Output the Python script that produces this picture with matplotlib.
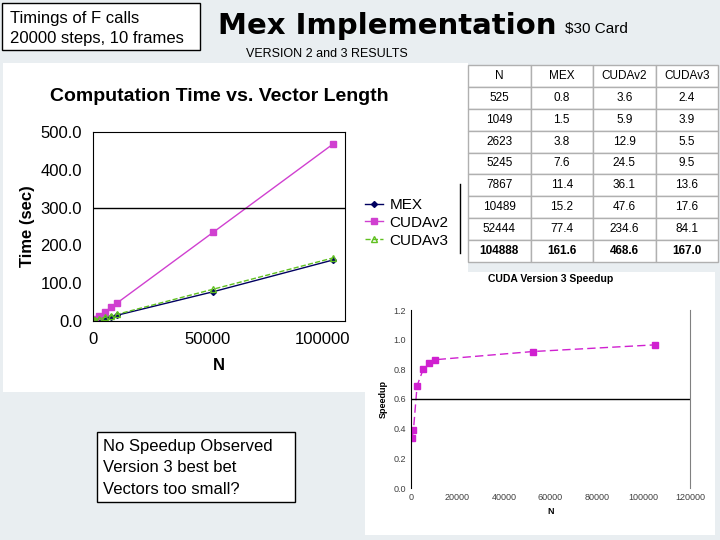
import matplotlib

matplotlib.use("Agg")
import matplotlib.pyplot as plt
from matplotlib.patches import Rectangle

plt.rcParams["font.family"] = "Liberation Sans"

N = [525, 1049, 2623, 5245, 7867, 10489, 52444, 104888]
MEX = [0.8, 1.5, 3.8, 7.6, 11.4, 15.2, 77.4, 161.6]
CUDAV2 = [3.6, 5.9, 12.9, 24.5, 36.1, 47.6, 234.6, 468.6]
CUDAV3 = [2.4, 3.9, 5.5, 9.5, 13.6, 17.6, 84.1, 167.0]
SPEEDUP = [0.34, 0.39, 0.69, 0.80, 0.84, 0.865, 0.92, 0.965]
COLS = ["N", "MEX", "CUDAv2", "CUDAv3"]

W, H = 720, 540
fig = plt.figure(figsize=(7.2, 5.4), dpi=100)
fig.patch.set_facecolor("#e9eef1")


def box(x0, y0, x1, y1):
    # pixel coords (top-left origin) -> figure fractions
    return [x0 / W, 1 - y1 / H, (x1 - x0) / W, (y1 - y0) / H]


def px(x, y):
    return x / W, 1 - y / H


def panel(x0, y0, x1, y1, z=-1, ec="none"):
    fig.patches.append(Rectangle(px(x0, y1), (x1 - x0) / W, (y1 - y0) / H, transform=fig.transFigure,
                                 facecolor="white", edgecolor=ec, lw=1, zorder=z))


panel(3, 63, 468, 392)
panel(365, 272, 715, 535)
panel(2, 3, 200, 50, ec="black")
panel(97, 432, 295, 502, z=5, ec="black")

fig.text(*px(10, 18), "Timings of F calls", fontsize=12, va="center")
fig.text(*px(10, 39), "20000 steps, 10 frames", fontsize=12, va="center")
fig.text(*px(218, 26), "Mex Implementation", fontsize=21, fontweight="bold",
         family="DejaVu Sans", va="center")
fig.text(*px(565, 29), "$30 Card", fontsize=11, va="center")
fig.text(*px(246, 54), "VERSION 2 and 3 RESULTS", fontsize=9, va="center")
fig.text(*px(103, 447), "No Speedup Observed", fontsize=12, va="center", zorder=6)
fig.text(*px(103, 468), "Version 3 best bet", fontsize=12, va="center", zorder=6)
fig.text(*px(103, 490), "Vectors too small?", fontsize=12, va="center", zorder=6)

# main chart
ax = fig.add_axes(box(93, 132, 345, 321))
ax.set_facecolor("white")
ax.plot(N, MEX, color="#000060", marker="D", ms=3, lw=1, label="MEX")
ax.plot(N, CUDAV2, color="#d040d0", marker="s", ms=4, lw=1, label="CUDAv2")
ax.plot(N, CUDAV3, color="#60c020", marker="^", ms=4, mfc="none", lw=1, ls="--", label="CUDAv3")
ax.axhline(300, color="black", lw=1)
ax.set_xlim(0, 110000)
ax.set_ylim(0, 500)
ax.set_xticks([0, 50000, 100000])
ax.set_yticks([0, 100, 200, 300, 400, 500])
ax.set_yticklabels([f"{v:.1f}" for v in [0, 100, 200, 300, 400, 500]])
ax.tick_params(labelsize=12, length=0, pad=8)
for s in ax.spines.values():
    s.set_color("black")
ax.set_xlabel("N", fontsize=12, fontweight="bold", labelpad=8)
ax.set_ylabel("Time (sec)", fontsize=12, fontweight="bold")
ax.set_title("Computation Time vs. Vector Length", fontsize=14, fontweight="bold", pad=22)
ax.legend(loc="center left", bbox_to_anchor=(1.08, 0.52), frameon=False, fontsize=11,
          handlelength=1.2, handletextpad=0.4, labelspacing=0.25, borderaxespad=0, borderpad=0)
fig.add_artist(plt.Line2D([460 / W, 460 / W], [1 - 184 / H, 1 - 253 / H], color="black", lw=1))

# table
tax = fig.add_axes(box(468, 65, 718, 262))
tax.axis("off")
rows = [[str(n), f"{a:.1f}", f"{b:.1f}", f"{c:.1f}"] for n, a, b, c in zip(N, MEX, CUDAV2, CUDAV3)]
tbl = tax.table(cellText=rows, colLabels=COLS, loc="center", cellLoc="center", bbox=[0, 0, 1, 1])
tbl.auto_set_font_size(False)
for (r, c), cell in tbl.get_celld().items():
    cell.set_edgecolor("#b0b0b0")
    cell.set_facecolor("white")
    cell.set_fontsize(8.5)
    if r == len(rows):
        cell.get_text().set_fontweight("bold")

# speedup chart
sx = fig.add_axes(box(411, 310, 690, 488))
sx.set_facecolor("white")
sx.plot(N, SPEEDUP, color="#d020d0", marker="s", ms=4, lw=1, ls=(0, (6, 3)))
sx.axhline(0.6, color="black", lw=1)
sx.set_xlim(0, 120000)
sx.set_ylim(0, 1.2)
sx.set_xticks(range(0, 120001, 20000))
sx.set_yticks([0, 0.2, 0.4, 0.6, 0.8, 1.0, 1.2])
sx.set_yticklabels([f"{v:.1f}" for v in [0, 0.2, 0.4, 0.6, 0.8, 1.0, 1.2]])
sx.tick_params(labelsize=6.5, length=0, colors="#404040")
sx.spines["top"].set_visible(False)
sx.spines["bottom"].set_visible(False)
sx.spines["right"].set_color("#808080")
sx.set_xlabel("N", fontsize=6.5, fontweight="bold")
sx.set_ylabel("Speedup", fontsize=6.5, fontweight="bold")
sx.set_title("CUDA Version 3 Speedup", fontsize=7.5, fontweight="bold", pad=20)

fig.savefig("out.png", dpi=100)
